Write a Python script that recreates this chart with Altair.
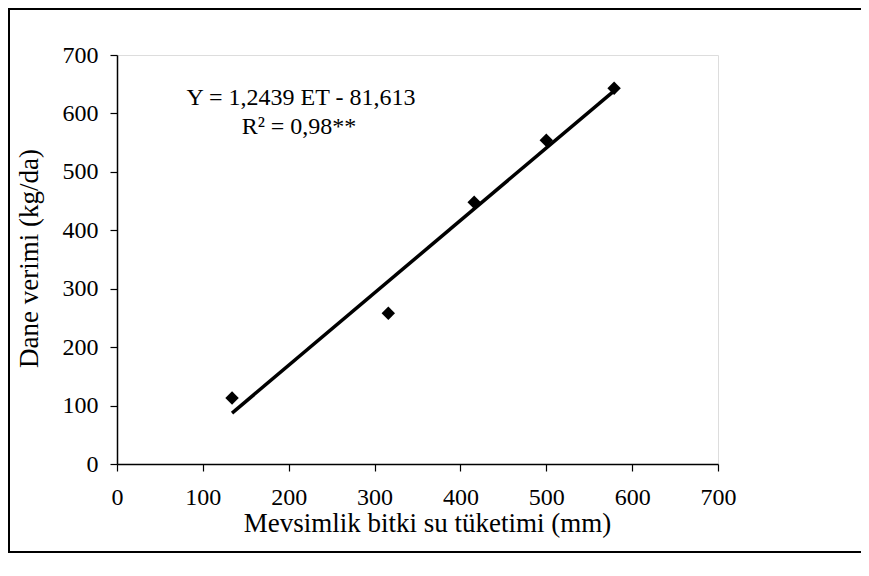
import altair as alt
import pandas as pd

# Data
et_mm = [134, 316, 416, 500, 579]
yield_kgda = [113, 258, 448, 554, 643]
axis_ticks = [0, 100, 200, 300, 400, 500, 600, 700]
eq_lines = ["Y = 1,2439 ET - 81,613", "R\u00b2 = 0,98**"]

df = pd.DataFrame({"ET": et_mm, "Verim": yield_kgda})

FONT = "Liberation Serif"
W, H = 601, 409

xs = alt.Scale(domain=[0, 700], nice=False)
ys = alt.Scale(domain=[0, 700], nice=False)

xaxis = alt.Axis(values=axis_ticks, grid=False, domainColor="black", domainWidth=1.5,
                 tickColor="black", tickSize=7, tickWidth=1.2, labelFont=FONT, labelFontSize=24,
                 labelColor="black", labelPadding=14, labelFlush=False, labelOverlap=False,
                 title="Mevsimlik bitki su tüketimi (mm)",
                 titleFont=FONT, titleFontSize=27, titleFontWeight="normal", titleColor="black",
                 titleX=310, titleY=67, titleBaseline="alphabetic")
yaxis = alt.Axis(values=axis_ticks, grid=False, domainColor="black", domainWidth=1.5,
                 tickColor="black", tickSize=7, tickWidth=1.2, labelFont=FONT, labelFontSize=24,
                 labelColor="black", labelPadding=12, labelFlush=False, labelOverlap=False,
                 title="Dane verimi (kg/da)",
                 titleFont=FONT, titleFontSize=27, titleFontWeight="normal", titleColor="black",
                 titleX=-80, titleY=203, titleBaseline="alphabetic", titleAngle=270)

base = alt.Chart(df)

points = base.mark_point(shape="diamond", filled=True, color="black", size=180, opacity=1).encode(
    x=alt.X("ET:Q", scale=xs, axis=xaxis),
    y=alt.Y("Verim:Q", scale=ys, axis=yaxis),
)

fit = base.transform_regression("ET", "Verim").mark_line(color="black", strokeWidth=3.5).encode(
    x=alt.X("ET:Q", scale=xs),
    y=alt.Y("Verim:Q", scale=ys),
)

txt_df = pd.DataFrame({"t": eq_lines, "row": [0, 1]})
txt1 = alt.Chart(txt_df).transform_filter("datum.row == 0").mark_text(
    font=FONT, fontSize=24, color="black", align="center", baseline="alphabetic"
).encode(text="t:N", x=alt.value(184), y=alt.value(50))
txt2 = alt.Chart(txt_df).transform_filter("datum.row == 1").mark_text(
    font=FONT, fontSize=24, color="black", align="center", baseline="alphabetic"
).encode(text="t:N", x=alt.value(182), y=alt.value(79))

frame = alt.Chart(pd.DataFrame({"a": [0]})).mark_rect(
    filled=False, stroke="black", strokeWidth=2, fill=None
).encode(x=alt.value(-108), x2=alt.value(745), y=alt.value(-46), y2=alt.value(497))

chart = alt.layer(frame, fit, points, txt1, txt2).properties(
    width=W, height=H,
    autosize=alt.AutoSizeParams(type="none"),
    padding={"left": 109, "top": 47, "right": 143, "bottom": 100},
).configure_view(stroke="#808080", strokeWidth=2).configure(background="white")

chart.save("out.html", embed_options={"renderer": "svg", "actions": False})
